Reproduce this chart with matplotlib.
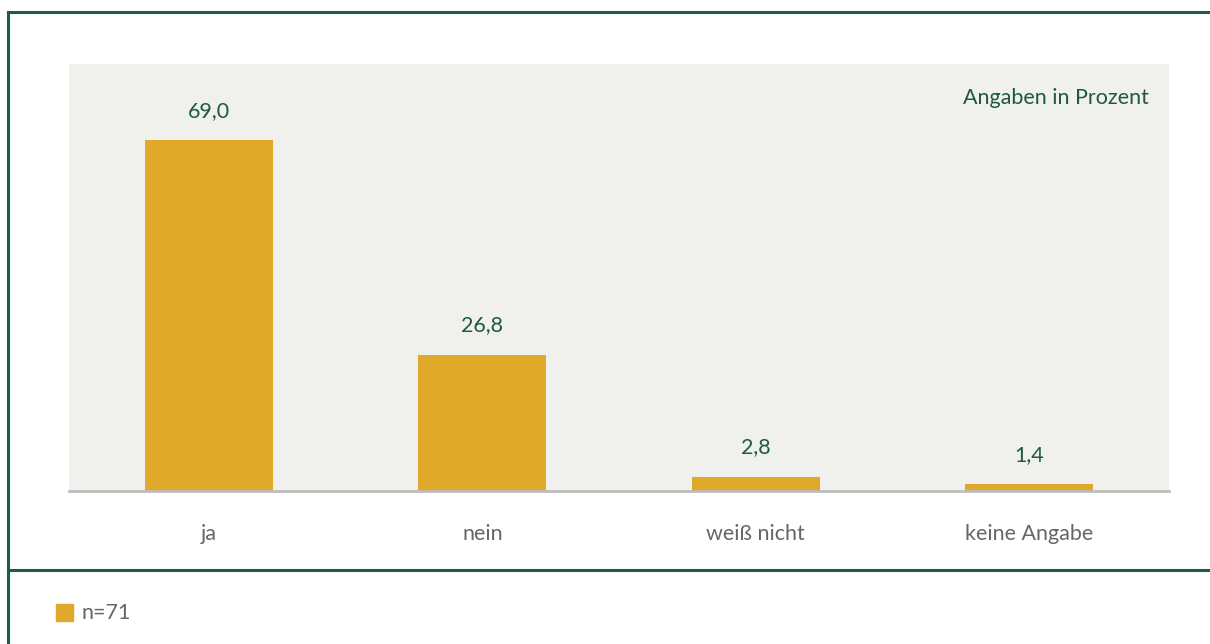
import matplotlib.pyplot as plt
from matplotlib.patches import Rectangle
from matplotlib.lines import Line2D

categories = ['ja', 'nein', 'weiß nicht', 'keine Angabe']
values = [69.0, 26.8, 2.8, 1.4]
value_labels = ['69,0', '26,8', '2,8', '1,4']
legend_label = 'n=71'
note = 'Angaben in Prozent'

bar_color = '#E0A929'
bg_color = '#F0F0EC'
frame_color = '#1E5E45'
label_green = '#1F5A3E'
grey_text = '#666666'

plt.rcParams['font.family'] = ['Lato', 'DejaVu Sans']

W, H = 1210, 644
fig = plt.figure(figsize=(W / 100, H / 100), dpi=100)

# plot area in pixels: x 69..1169, y 64..491
ax = fig.add_axes([69 / W, 1 - 491 / H, 1100 / W, 427 / H])
ax.set_facecolor(bg_color)
x = range(len(categories))
ax.bar(x, values, width=0.468, color=bar_color, zorder=2)
ax.set_xlim(-0.512, len(categories) - 0.488)
ax.set_ylim(0, 83.9)
for s in ['top', 'right', 'left']:
    ax.spines[s].set_visible(False)
ax.spines['bottom'].set_color('#BDBDBD')
ax.spines['bottom'].set_linewidth(2)
ax.spines['bottom'].set_zorder(3)
ax.set_yticks([])
ax.set_xticks(list(x))
ax.set_xticklabels(categories, fontsize=15.5, color=grey_text)
ax.tick_params(axis='x', length=0, pad=24)

for i, (v, lab) in enumerate(zip(values, value_labels)):
    ax.annotate(lab, (i, v), xytext=(0, 21), textcoords='offset points',
                ha='center', va='center', fontsize=15.5, color=label_green)

ax.text(0.982, 0.92, note, transform=ax.transAxes, ha='right', va='center',
        fontsize=15.5, color=label_green)

# frame lines
fig.add_artist(Line2D([8 / W, 8 / W], [0, 1 - 12 / H], color=frame_color, lw=2.2,
                      transform=fig.transFigure))
fig.add_artist(Line2D([8 / W, 1], [1 - 12 / H, 1 - 12 / H], color=frame_color, lw=2.2,
                      transform=fig.transFigure))
fig.add_artist(Line2D([8 / W, 1], [1 - 570 / H, 1 - 570 / H], color=frame_color, lw=2.2,
                      transform=fig.transFigure))

# legend
fig.add_artist(Rectangle((56 / W, 1 - 621 / H), 17 / W, 17 / H, color=bar_color,
                         transform=fig.transFigure))
fig.text(82 / W, 1 - 613 / H, legend_label, fontsize=15.5, color=grey_text,
         va='center', ha='left')

fig.savefig('out.png', dpi=100)
